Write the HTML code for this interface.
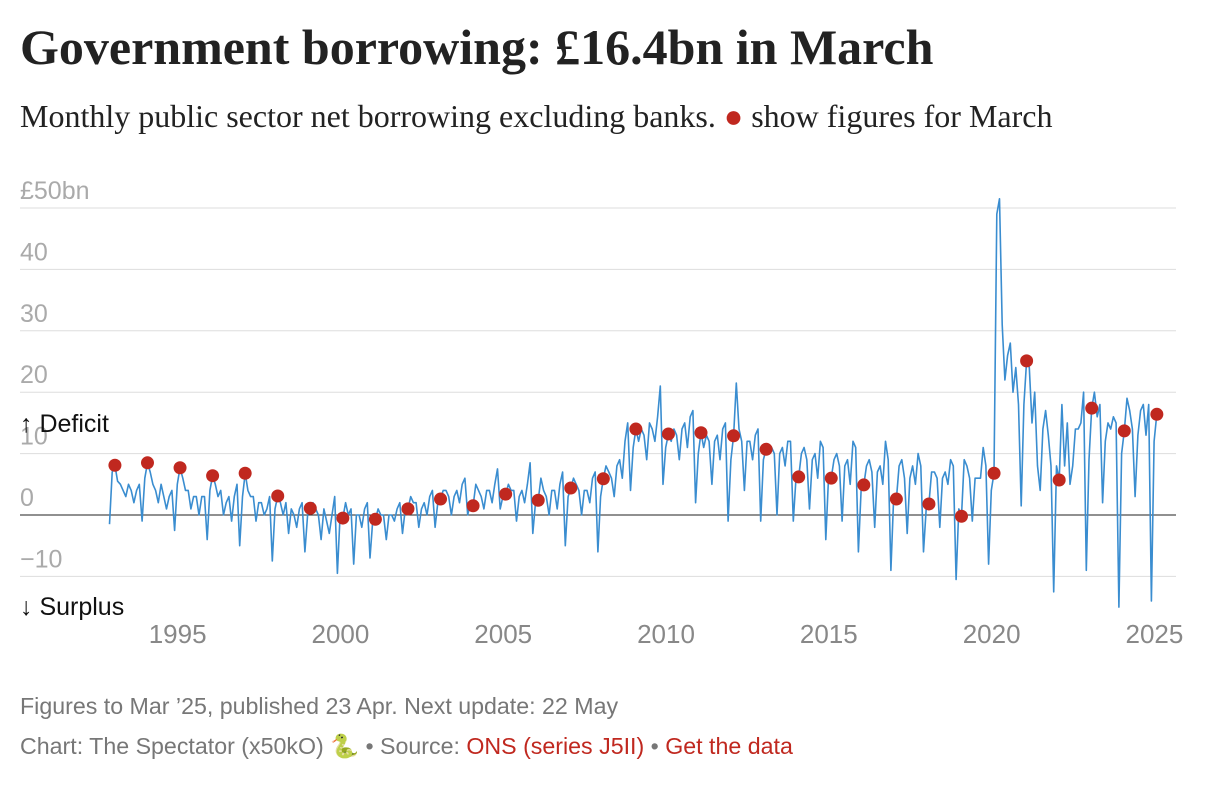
<!DOCTYPE html>
<html><head><meta charset="utf-8"><style>
body{margin:0;width:1216px;height:796px;background:#fff;overflow:hidden;font-family:"Liberation Sans",sans-serif}
svg{position:absolute;left:0;top:0}
</style></head><body>
<svg id="c" width="1216" height="796">
<text x="20" y="64" font-family="Liberation Serif,serif" font-weight="bold" font-size="50" fill="#222">Government borrowing: £16.4bn in March</text>
<text x="20" y="127" font-family="Liberation Serif,serif" font-size="32" fill="#222">Monthly public sector net borrowing excluding banks. <tspan fill="#c0281f">●</tspan> show figures for March</text>
<g id="grid"></g><g id="series"></g><g id="dots"></g>
<text x="20" y="432" font-size="25" fill="#111">↑ Deficit</text>
<text x="20" y="615" font-size="25" fill="#111">↓ Surplus</text>
<text x="20" y="714" font-size="23.2" fill="#777">Figures to Mar ’25, published 23 Apr. Next update: 22 May</text>
<text x="20" y="754" font-size="23.2" fill="#777">Chart: The Spectator (x50kO) 🐍 • Source: <tspan fill="#c0281f">ONS (series J5II)</tspan> • <tspan fill="#c0281f">Get the data</tspan></text>
</svg>
<script>
const yTicks=[50,40,30,20,10,0,-10];
const yTickLabels=["£50bn","40","30","20","10","0","−10"];
const xTicks=[1995,2000,2005,2010,2015,2020,2025];
const startYear=1993;
const borrowing=[
-1.5,7,8.1,5.5,5,4,3,5,4,2,4,5,
-1,6,8.5,7,5,4,2,5,3,1,3,4,
-2.5,5,7.7,6,4,4,1,3,3,0,3,3,
-4,4,6.4,5,3,4,0,2,3,-1,3,5,
-5,3,6.8,4,3,3,-1,2,2,0,1,3,
-7.5,1,3.1,2,0,2,-3,1,0,-2,1,2,
-6,0,1.1,2,1,0,-4,1,-1,-3,0,3,
-9.5,0,-0.5,2,0,1,-8,0,0,-2,1,2,
-7,-1,-0.7,1,0,0,-4,0,0,-1,1,2,
-3,1,1.0,3,2,2,-2,1,2,0,3,4,
-2,2,2.6,4,4,3,0,3,4,2,5,6,
0,2,1.5,5,4,3,1,4,4,2,5,7.5,
1,3,3.4,5,4,4,-1,3,4,2,5,8.5,
-3,2,2.4,6,4,3,0,4,4,1,5,7,
-5,3,4.4,6,5,4,0,4,4,2,6,7,
-6,3,5.9,8,7,6,3,8,9,6,12,15,
4,11,14,12,14,13,9,15,14,12,16,21,
5,11,13.2,12,14,13,9,14,15,11,16,17,
2,10,13.4,11,13,12,5,12,13,9,14,15,
-1,9,12.9,21.5,14,12,4,12,12,9,13,14,
-1,9,10.7,10,11,10,0,10,11,8,12,12,
-1,6,6.2,10,11,9,1,9,10,6,12,11,
-4,6,6.0,9,10,8,-1,8,9,5,12,11,
-6,4,4.9,8,9,7,-2,7,8,5,12,9,
-9,3,2.6,8,9,6,-3,6,8,5,10,8,
-6,1,1.8,7,7,6,-2,6,7,5,9,8,
-10.5,1,-0.2,9,8,6,-1,6,6,6,11,8,
-8,4,6.8,49,51.5,31,22,26,28,20,24,18,
1.5,18,25.1,24,15,20,8,4,14,17,13,8,
-12.5,8,5.7,18,8,15,5,8,14,14,15,20,
-9,9,17.4,20,16,18,2,12,15,14,16,15,
-15,10,13.7,19,17,14,3,13,17,18,13,18,
-14,12,16.4];
const NS="http://www.w3.org/2000/svg";
const X=t=>109.5+(t-1993)*32.56;
const Y=v=>515-v*6.14;
function mk(tag,attrs,parent){const e=document.createElementNS(NS,tag);for(const k in attrs)e.setAttribute(k,attrs[k]);parent.appendChild(e);return e;}
const grid=document.getElementById('grid');
yTicks.forEach((v,i)=>{
 const l=mk('line',{x1:20,x2:1176,y1:Y(v),y2:Y(v),stroke:v===0?'#222':'#ddd','stroke-width':1},grid);
 
 
 const t=mk('text',{x:20,y:Y(v)-9,'font-size':25,fill:'#aaa'},grid);
 t.textContent=yTickLabels[i];
 
 
});
xTicks.forEach(yr=>{
 const t=mk('text',{x:X(yr)+3,y:643,'font-size':26,fill:'#888','text-anchor':'middle'},grid);
 t.textContent=yr;
 
 
});
const pts=borrowing.map((v,i)=>X(startYear+i/12).toFixed(1)+','+Y(v).toFixed(1)).join(' ');
const pl=mk('polyline',{points:pts,fill:'none',stroke:'#3a8dd0','stroke-width':1.6,'stroke-linejoin':'round'},document.getElementById('series'));


const dots=document.getElementById('dots');
borrowing.forEach((v,i)=>{
 if(i%12!==2)return;
 const c=mk('circle',{cx:X(startYear+i/12),cy:Y(v),r:6.5,fill:'#c0281f'},dots);
 
 
});
</script>
</body></html>
